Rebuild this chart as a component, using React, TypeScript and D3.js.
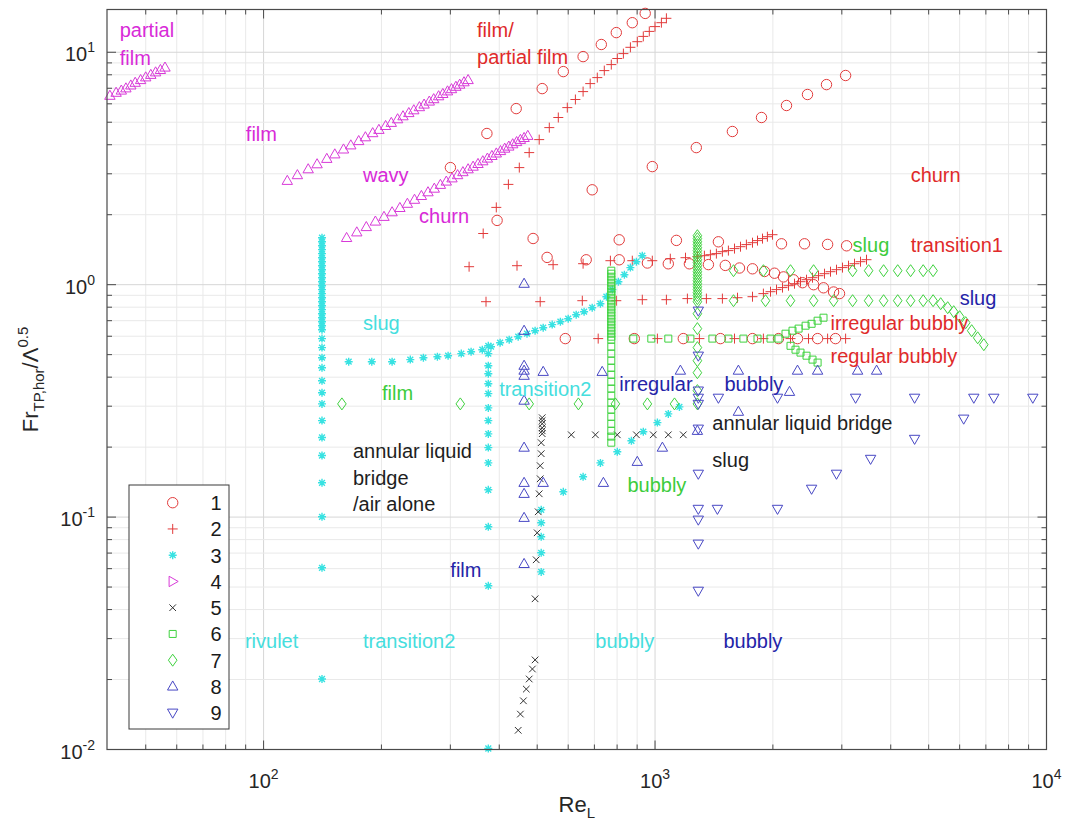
import React from 'react';
import * as d3 from 'd3';

type Pt = [number, number]; // [Re_L, Fr_TP,hor / Λ^0.5]

// ---- data ----

// 1: red circles
const s1: Pt[] = [
  [300, 3.19], [372, 4.47], [442, 5.72], [515, 6.98], [583, 8.26], [655, 9.58], [729, 10.8], [796, 12.15], [875, 13.4], [944, 14.7],
  [691, 2.56], [984, 3.22], [1275, 3.89], [1576, 4.56], [1870, 5.24], [2167, 5.9], [2452, 6.58], [2742, 7.26], [3067, 7.94],
  [395, 1.89],
  [488, 1.58], [810, 1.56], [1134, 1.55], [1452, 1.53], [2104, 1.5], [2409, 1.5], [2759, 1.49], [3085, 1.47],
  [530, 1.31], [667, 1.28], [810, 1.28], [956, 1.24], [1081, 1.23], [1224, 1.23], [1369, 1.22], [1512, 1.21], [1643, 1.18],
  [1774, 1.17], [1904, 1.14], [2019, 1.12], [2129, 1.08], [2258, 1.05], [2381, 1.02], [2541, 1.0], [2694, 0.97], [2858, 0.93], [2960, 0.915],
  [590, 0.586], [885, 0.586], [1181, 0.586], [1469, 0.586], [1774, 0.586], [2067, 0.586], [2312, 0.586], [2601, 0.586], [2891, 0.586],
];

// 2: red plus
const s2: Pt[] = [
  [364, 1.66], [393, 2.15], [422, 2.7], [450, 3.19], [477, 3.7], [506, 4.21], [537, 4.74], [566, 5.24], [597, 5.78], [626, 6.26],
  [655, 6.77], [683, 7.33], [712, 7.78], [742, 8.34], [773, 8.85], [801, 9.4], [830, 9.87], [865, 10.5], [901, 11.1], [933, 11.7],
  [967, 12.3], [1000, 12.9], [1038, 13.4], [1069, 14.0],
  [335, 1.195], [444, 1.207], [549, 1.219], [655, 1.231], [769, 1.268], [875, 1.268], [984, 1.268], [1094, 1.294], [1196, 1.307],
  [1283, 1.32], [1337, 1.333], [1385, 1.346], [1435, 1.36], [1486, 1.387], [1540, 1.401], [1596, 1.429], [1653, 1.457], [1712, 1.487],
  [1774, 1.516], [1827, 1.547], [1881, 1.578], [1937, 1.609], [1995, 1.641],
  [370, 0.845], [509, 0.845], [652, 0.853], [796, 0.853], [928, 0.862], [1069, 0.862], [1210, 0.871], [1353, 0.871], [1486, 0.871],
  [1624, 0.879], [1774, 0.888], [1892, 0.915], [1972, 0.933], [2043, 0.952], [2116, 0.971], [2192, 0.99], [2271, 1.01], [2353, 1.03],
  [2437, 1.051], [2525, 1.072], [2616, 1.093], [2710, 1.115], [2807, 1.137], [2908, 1.16], [3012, 1.184], [3121, 1.207], [3233, 1.231],
  [3349, 1.256], [3469, 1.281],
  [716, 0.586], [1014, 0.586], [1298, 0.586], [1596, 0.586], [1892, 0.586], [2218, 0.586], [2466, 0.586], [2759, 0.586], [3067, 0.586],
];

// 3: cyan asterisks
const s3ColARe = 141;
const s3ColAFr = [1.593, 1.531, 1.472, 1.415, 1.36, 1.307, 1.256, 1.207, 1.16, 1.115, 1.072, 1.03, 0.99, 0.952, 0.915, 0.879, 0.845,
  0.812, 0.781, 0.75, 0.721, 0.693, 0.666, 0.64, 0.586, 0.536, 0.485, 0.439, 0.386, 0.343, 0.307, 0.26, 0.22, 0.184, 0.1405, 0.1003,
  0.0605, 0.0201];
const s3ColBRe = 375;
const s3ColBFr = [0.546, 0.505, 0.448, 0.414, 0.375, 0.34, 0.295, 0.26, 0.228, 0.199, 0.171, 0.131, 0.0908, 0.0506, 0.0101];
const s3ColCRe = 512;
const s3ColCFr = [0.1075, 0.0945, 0.0823, 0.0702, 0.0581];
const s3Curve: Pt[] = [
  [165, 0.466], [189, 0.466], [213, 0.466], [237, 0.476], [256, 0.485], [278, 0.49], [296, 0.495], [320, 0.505], [339, 0.515],
  [362, 0.525], [381, 0.541], [402, 0.563], [424, 0.58], [447, 0.597], [471, 0.615], [494, 0.634], [518, 0.653], [546, 0.673],
  [573, 0.693], [600, 0.714], [629, 0.743], [659, 0.765], [691, 0.796], [725, 0.828], [751, 0.888], [778, 0.952], [806, 1.03],
  [835, 1.104], [865, 1.184], [896, 1.256], [928, 1.333],
  [583, 0.1285], [655, 0.149], [725, 0.171], [801, 0.191], [870, 0.213], [933, 0.233], [1014, 0.255], [1081, 0.278], [1154, 0.298],
];

// 4: magenta triangles
const s4: Pt[] = [
  [40.5, 6.5], [42, 6.7], [43.3, 6.85], [44.5, 7.0], [45.8, 7.2], [47, 7.4], [48.5, 7.6], [50, 7.8], [51.5, 8.0], [53, 8.2], [54.5, 8.4], [56, 8.6],
  [115, 2.8], [122, 2.96], [130, 3.14], [137, 3.3], [145, 3.48], [152, 3.64], [160, 3.82], [167, 3.98], [175, 4.15], [182, 4.31],
  [190, 4.49], [197, 4.64], [205, 4.82], [212, 4.97], [220, 5.15], [227, 5.31], [235, 5.48], [242, 5.63], [250, 5.81], [257, 5.96],
  [265, 6.14], [272, 6.29], [280, 6.47], [287, 6.62], [295, 6.79], [302, 6.94], [310, 7.11], [317, 7.26], [325, 7.43], [333, 7.6],
  [163, 1.59], [173, 1.68], [183, 1.77], [193, 1.87], [203, 1.96], [213, 2.05], [223, 2.14], [233, 2.23], [243, 2.32], [253, 2.41],
  [263, 2.5], [273, 2.59], [283, 2.69], [293, 2.78], [303, 2.87], [313, 2.96], [323, 3.05], [333, 3.14], [343, 3.22], [353, 3.31],
  [363, 3.4], [373, 3.49], [383, 3.58], [393, 3.67], [403, 3.76], [413, 3.85], [423, 3.93], [433, 4.02], [443, 4.11], [453, 4.2],
  [463, 4.28], [473, 4.37],
];

// 5: black crosses
const s5: Pt[] = [
  [515, 0.2676], [515, 0.26], [515, 0.2522], [515, 0.2423], [515, 0.2352], [515, 0.2284], [512, 0.2089], [512, 0.1873], [509, 0.1663],
  [509, 0.1462], [506, 0.126], [503, 0.1054], [500, 0.0856], [497, 0.0655], [494, 0.0445],
  [494, 0.0243], [486, 0.0222], [477, 0.0201], [469, 0.0182], [461, 0.0162], [453, 0.0142], [447, 0.0121],
  [611, 0.226], [704, 0.226], [801, 0.226], [896, 0.226], [990, 0.226], [1081, 0.226], [1181, 0.226],
];

// 6: green squares
const s6ColRe = 773;
const s6ColFr = [1.149, 1.115, 1.082, 1.051, 1.02, 0.99, 0.961, 0.933, 0.906, 0.879, 0.853, 0.828, 0.804, 0.781, 0.758, 0.736, 0.714,
  0.693, 0.673, 0.653, 0.634, 0.615, 0.597, 0.58, 0.541, 0.505, 0.471, 0.439, 0.41, 0.382, 0.357, 0.333, 0.311, 0.29, 0.27, 0.252,
  0.235, 0.222, 0.209];
const s6Rest: Pt[] = [
  [880, 0.586], [978, 0.586], [1081, 0.586], [1231, 0.586], [1401, 0.586], [1540, 0.586], [1682, 0.586], [1827, 0.586], [1972, 0.586], [2067, 0.586],
  [2154, 0.615], [2245, 0.634], [2326, 0.647], [2424, 0.666], [2511, 0.679], [2601, 0.7], [2694, 0.721],
  [2218, 0.546], [2285, 0.525], [2353, 0.51], [2437, 0.495], [2525, 0.476], [2601, 0.462],
];

// 7: green diamonds
const s7ColRe = 1283;
const s7ColFr = [1.625, 1.578, 1.531, 1.487, 1.443, 1.401, 1.36, 1.32, 1.281, 1.244, 1.207, 1.172, 1.137, 1.104, 1.072, 1.04, 1.01,
  0.98, 0.952, 0.924, 0.897, 0.871, 0.845, 0.75, 0.647, 0.536, 0.471, 0.418, 0.35, 0.307];
const s7Rest: Pt[] = [
  [158.5, 0.307], [318, 0.307], [477, 0.307], [637, 0.307], [792, 0.307], [956, 0.307], [1121, 0.307],
  [1586, 1.149], [1892, 1.149], [2218, 1.149], [2541, 1.149], [3196, 1.149], [3512, 1.149], [3836, 1.149], [4167, 1.149], [4497, 1.149],
  [4842, 1.149], [5131, 1.149],
  [1586, 0.853], [1915, 0.853], [2218, 0.853], [2541, 0.853], [2858, 0.853], [3196, 0.853], [3512, 0.853], [3836, 0.853], [4167, 0.853],
  [4497, 0.853], [4842, 0.853], [5131, 0.853], [5367, 0.828], [5593, 0.796], [5794, 0.765], [6001, 0.728], [6216, 0.686], [6442, 0.634],
  [6673, 0.591], [6914, 0.552],
];

// 8: blue triangles (up)
const s8: Pt[] = [
  [463, 1.01], [463, 0.634], [463, 0.448], [463, 0.427], [463, 0.406], [518, 0.422], [733, 0.422], [1161, 0.427], [1633, 0.427],
  [2312, 0.427], [2601, 0.427], [3291, 0.427], [3681, 0.427], [463, 0.317], [2206, 0.346], [1633, 0.284], [1283, 0.235], [463, 0.199],
  [1044, 0.199], [901, 0.173], [463, 0.1405], [518, 0.1405], [738, 0.1405], [463, 0.126], [463, 0.0993], [463, 0.0629],
];

// 9: blue triangles (down)
const s9: Pt[] = [
  [1290, 0.773], [1290, 0.495], [1290, 0.35], [1290, 0.326], [1290, 0.307], [1290, 0.24], [1452, 0.326], [2055, 0.326], [3253, 0.326],
  [4604, 0.326], [6520, 0.326], [7334, 0.326], [9226, 0.326], [6145, 0.265], [4604, 0.217], [3553, 0.178], [2908, 0.1536], [2511, 0.1324],
  [1290, 0.1536], [1290, 0.1085], [1443, 0.1085], [2055, 0.1085], [1290, 0.0974], [1290, 0.0768], [1290, 0.0482],
];

const legendLabels = ['1', '2', '3', '4', '5', '6', '7', '8', '9'];

// regime labels: [text, Re at left edge, Fr at middle, colour key]
const notes: [string, number, number, string][] = [
  ['partial', 42.9, 12.5, 'm'], ['film', 42.9, 9.49, 'm'], ['film', 90.1, 4.47, 'm'], ['wavy', 179.5, 2.95, 'm'], ['churn', 249.5, 1.98, 'm'],
  ['film/', 351, 12.5, 'r'], ['partial film', 351, 9.58, 'r'], ['churn', 4497, 2.95, 'r'], ['transition1', 4497, 1.487, 'r'],
  ['slug', 3196, 1.487, 'g'], ['slug', 6001, 0.879, 'b'], ['irregular bubbly', 2807, 0.686, 'r'], ['regular bubbly', 2807, 0.495, 'r'],
  ['bubbly', 1504, 0.375, 'b'], ['irregular', 810, 0.375, 'b'], ['annular liquid bridge', 1401, 0.255, 'k'], ['slug', 1401, 0.1765, 'k'],
  ['bubbly', 850, 0.1377, 'g'], ['slug', 179.5, 0.686, 'c'], ['film', 200.7, 0.343, 'g'], ['transition2', 399.7, 0.357, 'c'],
  ['annular liquid', 169.2, 0.193, 'k'], ['bridge', 169.2, 0.1476, 'k'], ['/air alone', 169.2, 0.1141, 'k'],
  ['film', 300, 0.0593, 'b'], ['rivulet', 89.6, 0.0293, 'c'], ['transition2', 179.5, 0.0293, 'c'], ['bubbly', 703.6, 0.0293, 'c'],
  ['bubbly', 1495, 0.0293, 'b'],
];

// ---- layout / style ----
const W = 1065;
const H = 831;
const plot = { left: 107, right: 1046.5, top: 9.5, bottom: 749.5 };
const FONT = '"Liberation Sans", Arial, Helvetica, sans-serif';

const markerColor: Record<string, string> = {
  r: '#e23b3b', c: '#38e2e2', m: '#d83ad8', k: '#333333', g: '#3fd23f', b: '#4848c4',
};
const textColor: Record<string, string> = {
  r: '#e02a2a', c: '#45dede', m: '#d82ad8', k: '#1e1e1e', g: '#3ccc3c', b: '#2424a8',
};

const symbols: Record<string, string> = {
  o: 'M5.2,0A5.2,5.2 0 1,1 -5.2,0A5.2,5.2 0 1,1 5.2,0Z',
  '+': 'M-5,0H5M0,-5V5',
  '*': 'M-4,0H4M0,-4V4M-2.9,-2.9L2.9,2.9M-2.9,2.9L2.9,-2.9',
  '^': 'M0,-5.5L5.2,3.6L-5.2,3.6Z',
  v: 'M0,5.5L5.2,-3.6L-5.2,-3.6Z',
  '>': 'M5.5,0L-3.6,5.2L-3.6,-5.2Z',
  x: 'M-3.3,-3.3L3.3,3.3M-3.3,3.3L3.3,-3.3',
  s: 'M-3.5,-3.5H3.5V3.5H-3.5Z',
  d: 'M0,-6L4.3,0L0,6L-4.3,0Z',
};

const col = (re: number, frs: number[]): Pt[] => frs.map(fr => [re, fr] as Pt);

const series = [
  { pts: s1, sym: 'o', c: 'r', legendSym: 'o' },
  { pts: s2, sym: '+', c: 'r', legendSym: '+' },
  { pts: [...col(s3ColARe, s3ColAFr), ...col(s3ColBRe, s3ColBFr), ...col(s3ColCRe, s3ColCFr), ...s3Curve], sym: '*', c: 'c', legendSym: '*' },
  { pts: s4, sym: '^', c: 'm', legendSym: '>' },
  { pts: s5, sym: 'x', c: 'k', legendSym: 'x' },
  { pts: [...col(s6ColRe, s6ColFr), ...s6Rest], sym: 's', c: 'g', legendSym: 's' },
  { pts: [...col(s7ColRe, s7ColFr), ...s7Rest], sym: 'd', c: 'g', legendSym: 'd' },
  { pts: s8, sym: '^', c: 'b', legendSym: '^' },
  { pts: s9, sym: 'v', c: 'b', legendSym: 'v' },
];

export default function App() {
  const x = d3.scaleLog().domain([10 ** 1.6, 1e4]).range([plot.left, plot.right]);
  const y = d3.scaleLog().domain([0.01, 10 ** 1.184]).range([plot.bottom, plot.top]);

  const isMajor = (v: number) => Math.abs(Math.log10(v) - Math.round(Math.log10(v))) < 1e-6;
  const xTicks = x.ticks().filter(t => x(t) > plot.left + 1.5 && x(t) < plot.right - 1.5);
  const yTicks = y.ticks().filter(t => y(t) < plot.bottom - 1.5 && y(t) > plot.top + 1.5);
  const xMajor = [100, 1000, 10000];
  const yMajor = [0.01, 0.1, 1, 10];

  const legend = { x: 129, y: 485, w: 100, h: 244, row: 26.25 };

  return (
    <div style={{ position: 'absolute', left: 0, top: 0, width: W, height: H, background: '#fff' }}>
      <svg width={W} height={H} viewBox={`0 0 ${W} ${H}`} style={{ display: 'block', fontFamily: FONT }}>
        <rect width={W} height={H} fill="#fff" />
        {/* grid */}
        <g>
          {xTicks.map(t => (
            <line key={'gx' + t} x1={x(t)} x2={x(t)} y1={plot.top} y2={plot.bottom}
              stroke={isMajor(t) ? '#d6d6d6' : '#e9e9e9'} strokeWidth={1} />
          ))}
          {yTicks.map(t => (
            <line key={'gy' + t} y1={y(t)} y2={y(t)} x1={plot.left} x2={plot.right}
              stroke={isMajor(t) ? '#d6d6d6' : '#e9e9e9'} strokeWidth={1} />
          ))}
        </g>
        {/* ticks, inside on all four sides */}
        <g stroke="#4a4a4a" strokeWidth={1}>
          {x.ticks().filter(t => x(t) > plot.left + 1 && x(t) < plot.right - 1).map(t => {
            const len = isMajor(t) ? 9 : 5;
            return (
              <g key={'tx' + t}>
                <line x1={x(t)} x2={x(t)} y1={plot.bottom} y2={plot.bottom - len} />
                <line x1={x(t)} x2={x(t)} y1={plot.top} y2={plot.top + len} />
              </g>
            );
          })}
          {y.ticks().filter(t => y(t) < plot.bottom - 1 && y(t) > plot.top + 1).map(t => {
            const len = isMajor(t) ? 9 : 5;
            return (
              <g key={'ty' + t}>
                <line y1={y(t)} y2={y(t)} x1={plot.left} x2={plot.left + len} />
                <line y1={y(t)} y2={y(t)} x1={plot.right} x2={plot.right - len} />
              </g>
            );
          })}
        </g>

        {/* data */}
        {series.map((s, i) => (
          <g key={'s' + i} fill="none" stroke={markerColor[s.c]} strokeWidth={s.sym === '*' ? 1.4 : 1}>
            {s.pts.map((p, j) => (
              <path key={j} d={symbols[s.sym]} transform={`translate(${x(p[0]).toFixed(1)},${y(p[1]).toFixed(1)})`} />
            ))}
          </g>
        ))}

        {/* regime labels */}
        {notes.map(([t, re, fr, c], i) => (
          <text key={'n' + i} x={x(re)} y={y(fr) + 7} fontSize={20} fill={textColor[c]}>{t}</text>
        ))}

        {/* axis box */}
        <rect x={plot.left} y={plot.top} width={plot.right - plot.left} height={plot.bottom - plot.top}
          fill="none" stroke="#4a4a4a" strokeWidth={1.2} />

        {/* tick labels */}
        {xMajor.map(t => (
          <text key={'lx' + t} x={x(t)} y={plot.bottom + 38} fontSize={20} fill="#262626" textAnchor="middle">
            10<tspan fontSize={14} dy={-9}>{Math.round(Math.log10(t))}</tspan>
          </text>
        ))}
        {yMajor.map(t => (
          <text key={'ly' + t} x={plot.left - 12} y={y(t) + 9} fontSize={20} fill="#262626" textAnchor="end">
            10<tspan fontSize={14} dy={-9}>{Math.round(Math.log10(t))}</tspan>
          </text>
        ))}

        {/* axis titles */}
        <text x={(plot.left + plot.right) / 2} y={812} fontSize={22} fill="#262626" textAnchor="middle">
          Re<tspan fontSize={15} dy={6}>L</tspan>
        </text>
        <text transform={`translate(38,${(plot.top + plot.bottom) / 2}) rotate(-90)`} fontSize={22} fill="#262626" textAnchor="middle">
          Fr<tspan fontSize={15} dy={6}>TP,hor</tspan><tspan dy={-6}>/Λ</tspan><tspan fontSize={15} dy={-10}>0.5</tspan>
        </text>

        {/* legend */}
        <g>
          <rect x={legend.x} y={legend.y} width={legend.w} height={legend.h} fill="#fff" stroke="#3a3a3a" strokeWidth={1} />
          {series.map((s, i) => {
            const cy = legend.y + 17.7 + i * legend.row;
            return (
              <g key={'lg' + i}>
                <path d={symbols[s.legendSym]} transform={`translate(172.7,${cy})`} fill="none"
                  stroke={markerColor[s.c]} strokeWidth={s.sym === '*' ? 1.4 : 1} />
                <text x={216} y={cy + 7.5} fontSize={20} fill="#1a1a1a" textAnchor="middle">{legendLabels[i]}</text>
              </g>
            );
          })}
        </g>
      </svg>
    </div>
  );
}
